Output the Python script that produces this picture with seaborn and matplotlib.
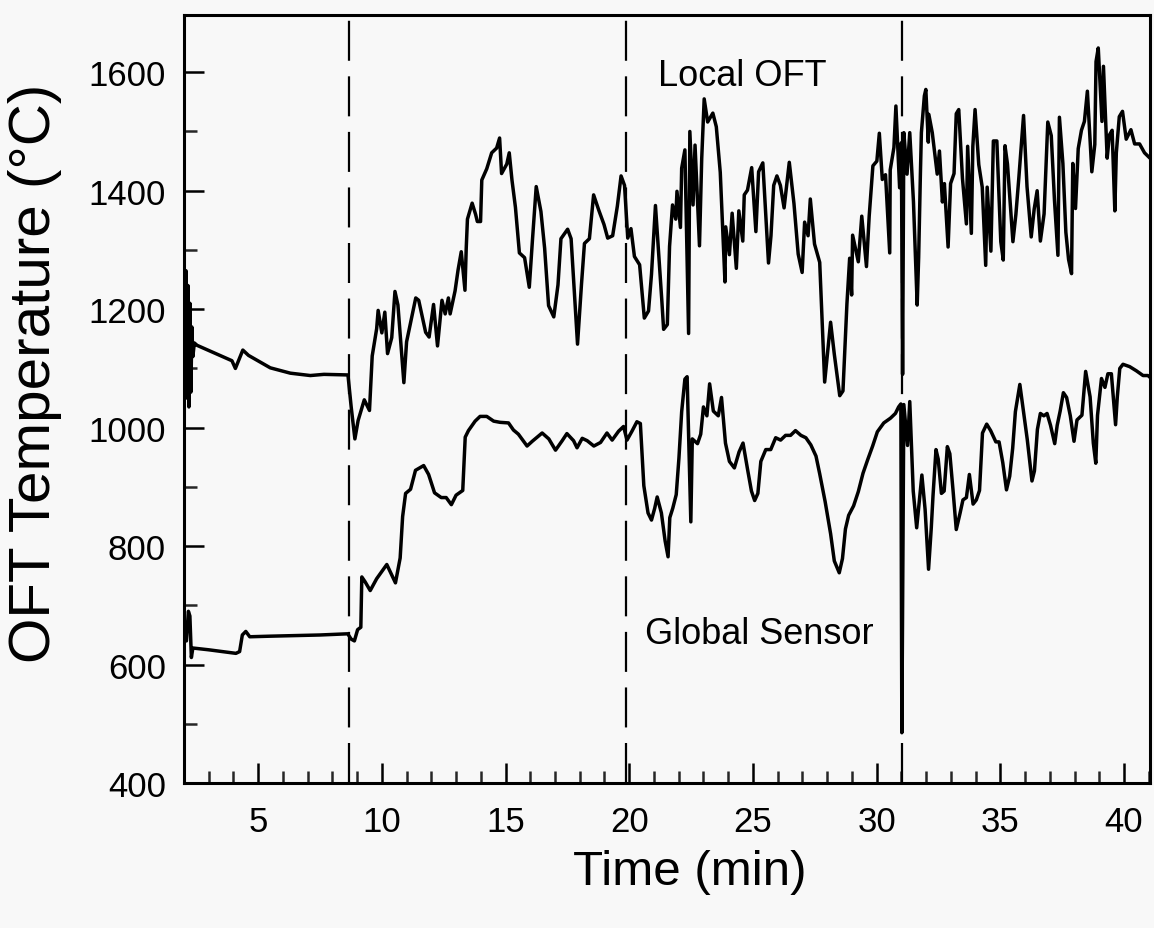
import matplotlib
matplotlib.use("Agg")
import matplotlib.pyplot as plt
from matplotlib.ticker import MultipleLocator, FixedLocator
import pandas as pd
import seaborn as sns

# ---------------- data ----------------
local_time = [2.04, 2.08, 2.12, 2.16, 2.20, 2.24, 2.28, 2.32, 2.36, 2.42, 2.53, 3.94, 4.08, 4.38, 4.61,
              5.49, 6.30, 7.11, 7.66, 8.53, 8.63, 8.76, 8.91, 9.04, 9.29, 9.50, 9.61, 9.79, 9.85, 10.00,
              10.12, 10.23, 10.40, 10.53, 10.65, 10.89, 11.00, 11.37, 11.49, 11.77, 11.91, 12.09, 12.25,
              12.43, 12.56, 12.69, 12.76, 12.96, 13.08, 13.21, 13.36, 13.41, 13.46, 13.65, 13.79, 13.86,
              13.99, 14.04, 14.24, 14.44, 14.64, 14.76, 14.84, 15.05, 15.15, 15.26, 15.40, 15.56, 15.77,
              15.96, 16.09, 16.24, 16.43, 16.58, 16.74, 16.95, 17.12, 17.24, 17.51, 17.65, 17.91, 18.07,
              18.19, 18.39, 18.56, 18.77, 18.98, 19.13, 19.33, 19.52, 19.67, 19.81, 19.94, 20.07, 20.21,
              20.42, 20.61, 20.78, 20.90, 21.06, 21.32, 21.39, 21.54, 21.63, 21.75, 21.88, 21.93, 22.07,
              22.12, 22.25, 22.40, 22.45, 22.58, 22.66, 22.84, 22.93, 23.03, 23.17, 23.38, 23.52, 23.68,
              23.87, 23.90, 24.05, 24.16, 24.33, 24.43, 24.59, 24.65, 24.78, 24.95, 25.12, 25.23, 25.40,
              25.63, 25.73, 25.84, 25.97, 26.11, 26.26, 26.47, 26.66, 26.83, 26.99, 27.09, 27.23, 27.32,
              27.49, 27.70, 27.90, 28.03, 28.14, 28.29, 28.51, 28.64, 28.80, 28.91, 28.99, 29.03, 29.26,
              29.40, 29.59, 29.70, 29.85, 30.01, 30.11, 30.23, 30.36, 30.53, 30.55, 30.70, 30.78, 30.93,
              31.00, 31.05, 31.10, 31.23, 31.34, 31.49, 31.64, 31.70, 31.77, 31.81, 31.93, 31.99, 32.09,
              32.11, 32.25, 32.45, 32.54, 32.66, 32.74, 32.89, 32.99, 33.13, 33.22, 33.32, 33.47, 33.63,
              33.68, 33.83, 33.89, 33.98, 34.13, 34.27, 34.41, 34.47, 34.62, 34.72, 34.86, 35.02, 35.12,
              35.19, 35.29, 35.51, 35.63, 35.75, 35.86, 35.94, 36.08, 36.25, 36.37, 36.49, 36.62, 36.77,
              36.85, 36.92, 37.06, 37.19, 37.33, 37.39, 37.53, 37.65, 37.76, 37.88, 37.93, 38.04, 38.15,
              38.28, 38.40, 38.52, 38.70, 38.82, 38.87, 38.96, 39.11, 39.17, 39.32, 39.41, 39.52, 39.63,
              39.69, 39.81, 39.94, 40.09, 40.28, 40.43, 40.63, 40.83, 41.05]
local_temp = [1150, 1265, 1050, 1240, 1035, 1210, 1060, 1170, 1120, 1143, 1139, 1113, 1100, 1131, 1122,
              1101, 1092, 1088, 1090, 1089, 1089, 1035, 981, 1012, 1047, 1029, 1121, 1167, 1198, 1160,
              1195, 1125, 1152, 1230, 1207, 1076, 1145, 1219, 1215, 1161, 1153, 1208, 1138,
              1215, 1192, 1219, 1192, 1231, 1266, 1297, 1232, 1302, 1352, 1379, 1360, 1348,
              1348, 1418, 1437, 1464, 1472, 1489, 1429, 1445, 1464, 1418, 1372, 1295, 1287,
              1237, 1318, 1407, 1365, 1303, 1206, 1187, 1241, 1319, 1335, 1319, 1141, 1242,
              1311, 1319, 1393, 1367, 1343, 1320, 1324, 1374, 1425, 1409, 1320, 1336, 1289,
              1275, 1185, 1197, 1259, 1375, 1213, 1166, 1174, 1306, 1376, 1352, 1399, 1338,
              1438, 1469, 1159, 1500, 1376, 1477, 1307, 1454, 1555, 1516, 1531, 1508, 1431,
              1246, 1339, 1292, 1362, 1269, 1366, 1315, 1393, 1401, 1439, 1331, 1432, 1447,
              1278, 1324, 1409, 1425, 1409, 1371, 1448, 1378, 1293, 1262, 1347, 1324, 1386,
              1310, 1279, 1077, 1131, 1178, 1124, 1054, 1062, 1209, 1286, 1224, 1325, 1280,
              1357, 1272, 1357, 1442, 1450, 1497, 1419, 1427, 1295, 1435, 1473, 1543, 1405,
              1481, 1090, 1498, 1428, 1498, 1381, 1207, 1288, 1428, 1498, 1560, 1571, 1482,
              1529, 1498, 1428, 1467, 1381, 1412, 1305, 1412, 1429, 1530, 1537, 1421, 1344,
              1475, 1328, 1475, 1537, 1444, 1406, 1274, 1406, 1298, 1484, 1484, 1314, 1283,
              1476, 1445, 1314, 1360, 1422, 1484, 1527, 1407, 1322, 1369, 1400, 1315, 1361,
              1446, 1516, 1493, 1384, 1291, 1524, 1446, 1330, 1284, 1260, 1446, 1370, 1471,
              1502, 1517, 1568, 1432, 1478, 1618, 1641, 1517, 1610, 1455, 1494, 1502, 1366,
              1464, 1525, 1534, 1487, 1503, 1479, 1479, 1464, 1455]

global_time = [2.10, 2.18, 2.24, 2.30, 2.36, 3.00, 4.10, 4.25, 4.36, 4.50, 4.66, 5.50, 6.50, 7.50, 8.62,
               8.76, 8.89, 9.02, 9.15, 9.19, 9.32, 9.53, 9.79, 10.20, 10.55, 10.74, 10.84, 10.96, 11.16,
               11.36, 11.69, 11.89, 12.13, 12.40, 12.60, 12.81, 13.00, 13.27, 13.37, 13.50, 13.77, 13.97,
               14.24, 14.52, 14.78, 15.12, 15.32, 15.52, 15.87, 16.08, 16.48, 16.75, 17.02, 17.29, 17.48,
               17.75, 17.89, 18.10, 18.30, 18.57, 18.84, 19.10, 19.31, 19.57, 19.77, 19.91, 20.11, 20.31,
               20.45, 20.59, 20.76, 20.90, 21.03, 21.13, 21.30, 21.45, 21.57, 21.64, 21.76, 21.90, 22.01,
               22.12, 22.25, 22.34, 22.49, 22.55, 22.76, 22.89, 23.00, 23.14, 23.25, 23.40, 23.60, 23.73,
               23.89, 24.05, 24.25, 24.44, 24.60, 24.79, 24.94, 25.07, 25.20, 25.32, 25.52, 25.72, 25.92,
               26.12, 26.32, 26.52, 26.72, 26.94, 27.14, 27.34, 27.55, 27.70, 27.92, 28.14, 28.29, 28.49,
               28.62, 28.74, 28.87, 29.07, 29.26, 29.45, 29.64, 29.84, 30.03, 30.29, 30.56, 30.76, 30.89,
               30.98, 31.02, 31.10, 31.25, 31.34, 31.48, 31.62, 31.75, 31.83, 31.96, 32.10, 32.21, 32.28,
               32.40, 32.49, 32.62, 32.73, 32.86, 32.96, 33.09, 33.22, 33.37, 33.49, 33.63, 33.75, 33.90,
               34.03, 34.16, 34.28, 34.45, 34.61, 34.82, 34.95, 35.10, 35.25, 35.38, 35.50, 35.61, 35.79,
               35.94, 36.09, 36.28, 36.38, 36.50, 36.62, 36.76, 36.89, 37.03, 37.20, 37.30, 37.42, 37.55,
               37.68, 37.83, 37.98, 38.10, 38.30, 38.45, 38.63, 38.76, 38.86, 38.93, 39.09, 39.23, 39.35,
               39.49, 39.66, 39.73, 39.83, 39.96, 40.23, 40.50, 40.77, 40.97, 41.05]
global_temp = [640, 690, 682, 612, 628, 625, 619, 622, 650, 656, 647, 648, 649, 650, 652,
               643, 640, 659, 663, 748, 740, 725, 745, 769, 738, 780, 850, 889, 896,
               928, 936, 921, 890, 882, 882, 870, 886, 894, 984, 995, 1011, 1019,
               1019, 1011, 1009, 1008, 996, 989, 969, 977, 991, 981, 962, 978, 990,
               978, 966, 982, 978, 969, 975, 991, 979, 994, 1002, 979, 994, 1010,
               1007, 902, 856, 844, 864, 883, 856, 809, 782, 848, 864, 887, 949,
               1027, 1082, 1086, 841, 981, 973, 989, 1035, 1020, 1074, 1028, 1020, 1051,
               974, 943, 932, 959, 974, 928, 893, 877, 889, 943, 963, 963, 983,
               979, 987, 987, 995, 987, 983, 971, 952, 922, 875, 821, 775, 755,
               779, 829, 852, 868, 892, 923, 946, 969, 993, 1008, 1016, 1024, 1035,
               1040, 485, 1039, 970, 1044, 893, 831, 885, 920, 862, 761, 831, 885,
               963, 947, 889, 893, 968, 956, 894, 828, 855, 878, 882, 921, 871,
               878, 894, 991, 1006, 995, 976, 976, 941, 895, 918, 965, 1027, 1073,
               1027, 980, 910, 927, 997, 1024, 1020, 1024, 1004, 973, 1004, 1028, 1059,
               1051, 1020, 977, 1013, 1021, 1095, 1052, 974, 940, 1021, 1083, 1068, 1091,
               1091, 1005, 1052, 1100, 1107, 1103, 1096, 1088, 1088, 1085]

event_times = [8.68, 19.87, 31.03]          # dashed vertical markers (min)
x_tick_values = [5, 10, 15, 20, 25, 30, 35, 40]
y_tick_values = [400, 600, 800, 1000, 1200, 1400, 1600]
series_labels = ["Local OFT", "Global Sensor"]
label_positions = [(21.16, 1594), (20.64, 653)]

# ---------------- figure ----------------
sns.set_theme(style="ticks")
plt.rcParams['font.family'] = ['Liberation Sans', 'DejaVu Sans']

bg = "#f8f8f8"
fig = plt.figure(figsize=(11.54, 9.29), dpi=100, facecolor=bg)
ax = fig.add_axes([0.1594, 0.156, 0.8371, 0.827])
ax.set_facecolor(bg)

df_local = pd.DataFrame({"time": local_time, "temp": local_temp})
df_global = pd.DataFrame({"time": global_time, "temp": global_temp})

sns.lineplot(data=df_local, x="time", y="temp", ax=ax, color="black", lw=2.5,
             estimator=None, sort=False, legend=False)
sns.lineplot(data=df_global, x="time", y="temp", ax=ax, color="black", lw=2.5,
             estimator=None, sort=False, legend=False)

for t in event_times:
    ax.axvline(t, color="black", lw=1.6, linestyle=(0, (18, 7)))

for lab, (lx, ly) in zip(series_labels, label_positions):
    ax.text(lx, ly, lab, fontsize=26, ha="left", va="center", color="black")

ax.set_xlim(2, 41.05)
ax.set_ylim(400, 1697)

ax.xaxis.set_major_locator(FixedLocator(x_tick_values))
ax.xaxis.set_minor_locator(MultipleLocator(1))
ax.yaxis.set_major_locator(FixedLocator(y_tick_values))
ax.yaxis.set_minor_locator(MultipleLocator(100))

ax.tick_params(axis="both", which="major", direction="in", length=14.5, width=1.8,
               labelsize=25, colors="black", top=False, right=False)
ax.tick_params(axis="both", which="minor", direction="in", length=9, width=1.8,
               top=False, right=False)
ax.tick_params(axis="y", which="major", pad=13)
ax.tick_params(axis="x", which="major", pad=16)

for sp in ax.spines.values():
    sp.set_visible(True)
    sp.set_linewidth(2.2)
    sp.set_color("black")

ax.set_xlabel("Time (min)", fontsize=35.5, color="black")
ax.set_ylabel("OFT Temperature (\u00b0C)", fontsize=42, color="black")
ax.xaxis.set_label_coords(0.524, -0.115)
ax.xaxis.label.set_verticalalignment("center")
ax.yaxis.set_label_coords(-0.154, 0.535)
ax.yaxis.label.set_verticalalignment("center")

fig.savefig("out.png", dpi=100, facecolor=bg)
